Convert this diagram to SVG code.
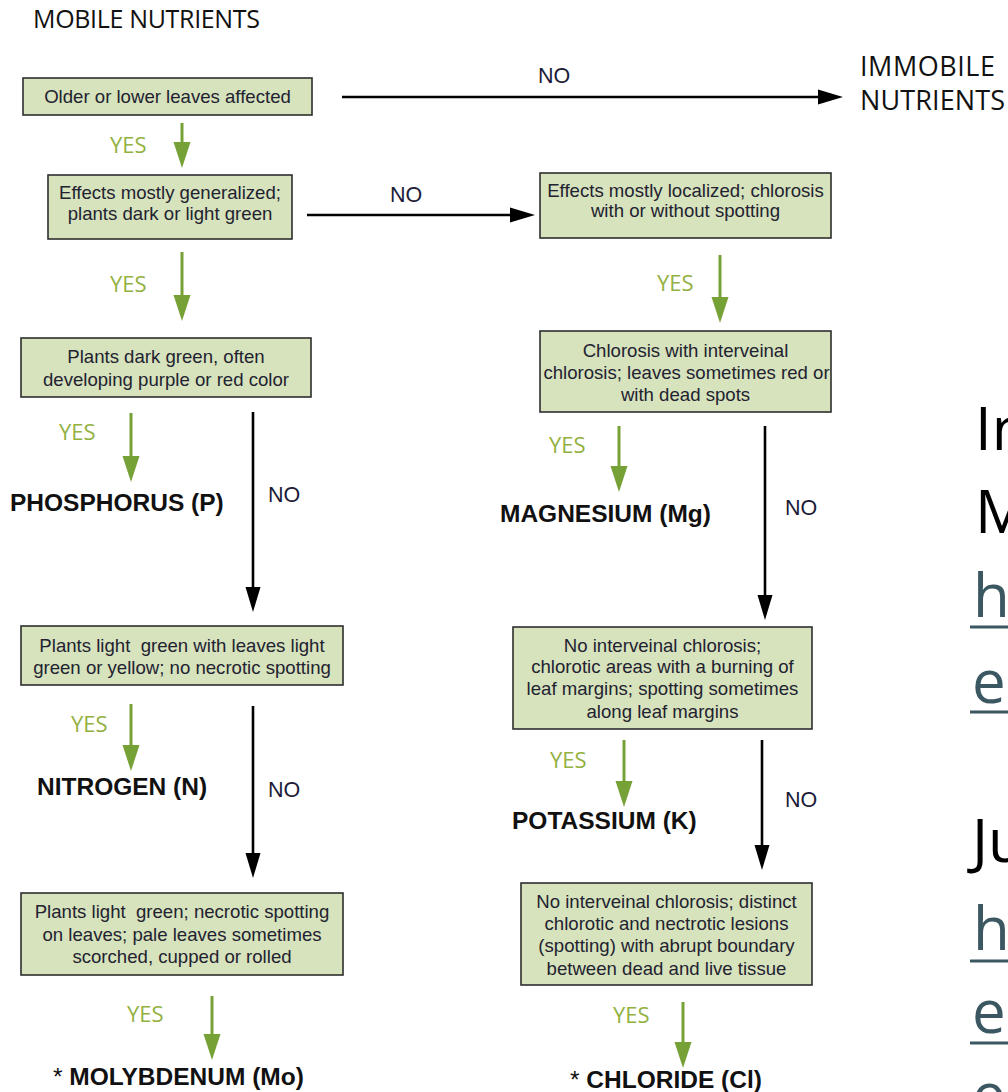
<svg xmlns="http://www.w3.org/2000/svg" width="1008" height="1092" viewBox="0 0 1008 1092">
<style>
.box{fill:#d7e3bd;stroke:#2e2e2e;stroke-width:1.6}
.bt{font-family:"Liberation Sans",Arial,sans-serif;font-size:18.6px;fill:#222230;text-anchor:middle}
.res{font-family:"Liberation Sans",Arial,sans-serif;font-size:24.5px;font-weight:bold;fill:#111}
.ast{font-weight:normal}
.no{font-family:"Liberation Sans",Arial,sans-serif;font-size:21.5px;fill:#1c1c38}
.yes{font-family:"Open Sans",sans-serif;font-size:22px;fill:#93b13f}
.blk{stroke:#000;stroke-width:2.6;fill:none;marker-end:url(#ah)}
.grn{stroke:#76a136;stroke-width:3;fill:none;marker-end:url(#ag)}
.cal{font-family:"Open Sans",sans-serif;fill:#111}
.big{font-family:"Open Sans",sans-serif;font-size:60px}
.lnk{fill:#3b5761}
.ul{stroke:#3b5761;stroke-width:3}
</style>
<defs>
<marker id="ah" markerUnits="userSpaceOnUse" markerWidth="30" markerHeight="20" viewBox="0 -10 30 20" refX="0" refY="0" orient="auto">
<path d="M0,-7.5 L25,0 L0,7.5 Z" fill="#000"/>
</marker>
<marker id="ag" markerUnits="userSpaceOnUse" markerWidth="30" markerHeight="20" viewBox="0 -10 30 20" refX="0" refY="0" orient="auto">
<path d="M0,-8.5 L26,0 L0,8.5 Z" fill="#76a136"/>
</marker>
</defs>
<rect width="1008" height="1092" fill="#fff"/>

<text id="title" class="cal" x="33" y="28" font-size="25" textLength="227" fill="#1f1f2f">MOBILE NUTRIENTS</text>

<g id="connectors">
<line class="blk" x1="342" y1="97" x2="818" y2="97"/>
<text class="no" x="538" y="83">NO</text>
<line class="grn" x1="182" y1="123" x2="182" y2="142"/>
<text class="yes" x="110" y="153">YES</text>
<line class="blk" x1="307" y1="215" x2="510" y2="215"/>
<text class="no" x="390" y="202">NO</text>
<line class="grn" x1="182" y1="252" x2="182" y2="295"/>
<text class="yes" x="110" y="292">YES</text>
<line class="grn" x1="131" y1="413" x2="131" y2="456"/>
<text class="yes" x="59" y="440">YES</text>
<line class="blk" x1="253" y1="412" x2="253" y2="587"/>
<text class="no" x="268" y="502">NO</text>
<line class="grn" x1="131" y1="704" x2="131" y2="745"/>
<text class="yes" x="71" y="732">YES</text>
<line class="blk" x1="253" y1="706" x2="253" y2="853"/>
<text class="no" x="268" y="797">NO</text>
<line class="grn" x1="212" y1="996" x2="212" y2="1034"/>
<text class="yes" x="127" y="1022">YES</text>
<line class="grn" x1="720" y1="255" x2="720" y2="297"/>
<text class="yes" x="657" y="291">YES</text>
<line class="grn" x1="619" y1="426" x2="619" y2="466"/>
<text class="yes" x="549" y="453">YES</text>
<line class="blk" x1="765" y1="426" x2="765" y2="595"/>
<text class="no" x="785" y="515">NO</text>
<line class="grn" x1="624" y1="740" x2="624" y2="781"/>
<text class="yes" x="550" y="768">YES</text>
<line class="blk" x1="762" y1="740" x2="762" y2="845"/>
<text class="no" x="785" y="807">NO</text>
<line class="grn" x1="683" y1="1002" x2="683" y2="1042"/>
<text class="yes" x="613" y="1023">YES</text>
</g>

<g id="n-older">
<rect class="box" x="23" y="78" width="289" height="37"/>
<text class="bt" x="167.5" y="103">Older or lower leaves affected</text>
</g>
<g id="n-general">
<rect class="box" x="48" y="175" width="244" height="64"/>
<text class="bt" x="170" y="199" font-size="18">Effects mostly generalized;</text>
<text class="bt" x="170" y="220" font-size="18">plants dark or light green</text>
</g>
<g id="n-localized">
<rect class="box" x="540" y="173" width="291" height="65"/>
<text class="bt" x="685.5" y="197">Effects mostly localized; chlorosis</text>
<text class="bt" x="685.5" y="217">with or without spotting</text>
</g>
<g id="n-immobile">
<text class="cal" x="860" y="76" font-size="27" textLength="135">IMMOBILE</text>
<text class="cal" x="860" y="110" font-size="27" textLength="145">NUTRIENTS</text>
</g>
<g id="n-darkgreen">
<rect class="box" x="21" y="338" width="290" height="59"/>
<text class="bt" x="166" y="363">Plants dark green, often</text>
<text class="bt" x="166" y="386">developing purple or red color</text>
</g>
<g id="n-phosphorus">
<text class="res" x="10" y="511">PHOSPHORUS (P)</text>
</g>
<g id="n-lightgreen">
<rect class="box" x="21" y="626" width="322" height="59"/>
<text class="bt" x="182" y="652" xml:space="preserve">Plants light  green with leaves light</text>
<text class="bt" x="182" y="674">green or yellow; no necrotic spotting</text>
</g>
<g id="n-nitrogen">
<text class="res" x="37" y="795">NITROGEN (N)</text>
</g>
<g id="n-necrotic">
<rect class="box" x="21" y="893" width="322" height="82"/>
<text class="bt" x="182" y="918" xml:space="preserve">Plants light  green; necrotic spotting</text>
<text class="bt" x="182" y="941">on leaves; pale leaves sometimes</text>
<text class="bt" x="182" y="963">scorched, cupped or rolled</text>
</g>
<g id="n-molybdenum">
<text class="res" x="53" y="1085"><tspan class="ast">* </tspan>MOLYBDENUM (Mo)</text>
</g>
<g id="n-interveinal">
<rect class="box" x="540" y="331" width="291" height="81"/>
<text class="bt" x="685.5" y="357">Chlorosis with interveinal</text>
<text class="bt" x="686.5" y="379">chlorosis; leaves sometimes red or</text>
<text class="bt" x="685.5" y="401">with dead spots</text>
</g>
<g id="n-magnesium">
<text class="res" x="500" y="522">MAGNESIUM (Mg)</text>
</g>
<g id="n-margins">
<rect class="box" x="513" y="627" width="299" height="102"/>
<text class="bt" x="662.5" y="652">No interveinal chlorosis;</text>
<text class="bt" x="662.5" y="673">chlorotic areas with a burning of</text>
<text class="bt" x="662.5" y="695">leaf margins; spotting sometimes</text>
<text class="bt" x="662.5" y="718">along leaf margins</text>
</g>
<g id="n-potassium">
<text class="res" x="512" y="829">POTASSIUM (K)</text>
</g>
<g id="n-lesions">
<rect class="box" x="521" y="883" width="291" height="102"/>
<text class="bt" x="666.5" y="908">No interveinal chlorosis; distinct</text>
<text class="bt" x="666.5" y="930">chlorotic and nectrotic lesions</text>
<text class="bt" x="666.5" y="952">(spotting) with abrupt boundary</text>
<text class="bt" x="666.5" y="975">between dead and live tissue</text>
</g>
<g id="n-chloride">
<text class="res" x="570" y="1088"><tspan class="ast">* </tspan>CHLORIDE (Cl)</text>
</g>

<g id="side-notes">
<text class="big" x="975" y="450" fill="#000">In</text>
<text class="big" x="975" y="533" fill="#000">M</text>
<text class="big lnk" x="973" y="617">h</text>
<line class="ul" x1="970" y1="627" x2="1008" y2="627"/>
<text class="big lnk" x="972" y="703">e</text>
<line class="ul" x1="970" y1="712" x2="1008" y2="712"/>
<text class="big" x="972" y="862" fill="#000">Ju</text>
<text class="big lnk" x="973" y="950">h</text>
<line class="ul" x1="970" y1="961" x2="1008" y2="961"/>
<text class="big lnk" x="972" y="1033">e</text>
<line class="ul" x1="970" y1="1043" x2="1008" y2="1043"/>
<text class="big lnk" x="972" y="1116">e</text>
</g>
</svg>
